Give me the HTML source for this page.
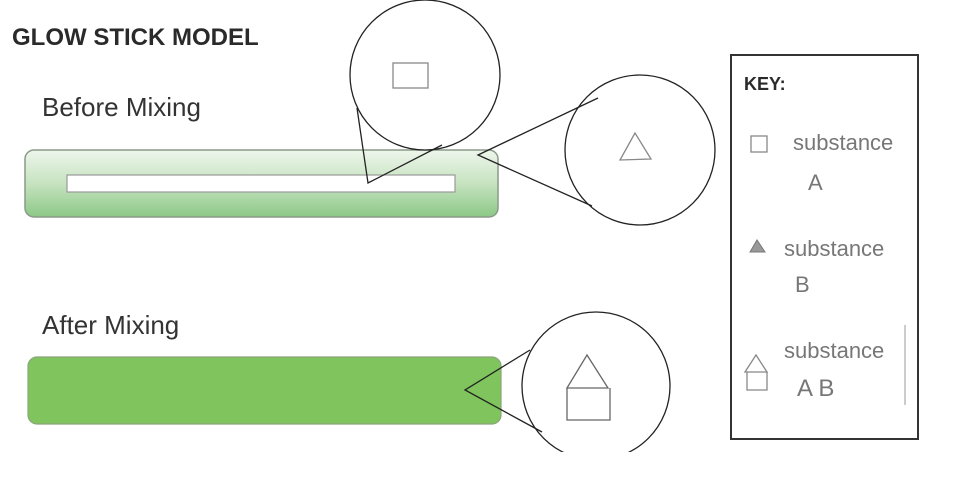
<!DOCTYPE html>
<html><head><meta charset="utf-8"><style>
html,body{margin:0;padding:0;background:#fff;}
svg{display:block;}
.hand{font-family:"Liberation Sans",sans-serif;fill:#777;}
</style></head><body>
<svg width="960" height="481" viewBox="0 0 960 481" xmlns="http://www.w3.org/2000/svg">
<defs>
<linearGradient id="g1" x1="0" y1="0" x2="0" y2="1">
<stop offset="0" stop-color="#eef6ec"/><stop offset="0.5" stop-color="#c6e3c0"/><stop offset="1" stop-color="#8cc886"/>
</linearGradient>
</defs>
<text x="12" y="45" font-family="Liberation Sans,sans-serif" font-weight="bold" font-size="24" fill="#2a2a2a">GLOW STICK MODEL</text>
<text x="42" y="116" font-family="Liberation Sans,sans-serif" font-size="26" fill="#333">Before Mixing</text>
<rect x="25" y="150" width="473" height="67" rx="9" fill="url(#g1)" stroke="#8a9a88" stroke-width="1.5"/>
<rect x="67" y="175" width="388" height="17" fill="#fff" stroke="#999" stroke-width="1.2"/>
<g stroke="#222" stroke-width="1.3" fill="none">
<circle cx="425" cy="75" r="75" fill="#fff"/>
<path d="M357 108 L368 183 L442 145"/>
<rect x="393" y="63" width="35" height="25" stroke="#888"/>
<circle cx="640" cy="150" r="75" fill="#fff"/>
<path d="M598 98 L478 155 L592 206"/>
<path d="M620 160 L635 133 L651 159 Z" stroke="#888"/>
</g>
<text x="42" y="334" font-family="Liberation Sans,sans-serif" font-size="26" fill="#333">After Mixing</text>
<rect x="28" y="357" width="473" height="67" rx="9" fill="#7fc45c" stroke="#8aa57a" stroke-width="1.2"/>
<g stroke="#222" stroke-width="1.3" fill="none">
<circle cx="596" cy="386" r="74" fill="#fff"/>
<path d="M530 350 L465 390 L542 432"/>
<path d="M567 388 L587 355 L608 388 Z M567 388 L567 420 L610 420 L610 388" stroke="#666"/>
</g>
<rect x="500" y="452" width="200" height="29" fill="#fff"/>
<rect x="731" y="55" width="187" height="384" fill="#fff" stroke="#333" stroke-width="2"/>
<text x="744" y="90" font-family="Liberation Sans,sans-serif" font-weight="bold" font-size="18" fill="#2a2a2a">KEY:</text>
<rect x="751" y="136" width="16" height="16" fill="none" stroke="#888" stroke-width="1.3"/>
<text class="hand" x="793" y="150" font-size="22">substance</text>
<text class="hand" x="808" y="190" font-size="22">A</text>
<path d="M750 252 L757 240 L765 252 Z" fill="#999" stroke="#777"/>
<text class="hand" x="784" y="256" font-size="22">substance</text>
<text class="hand" x="795" y="292" font-size="22">B</text>
<path d="M745 372 L756 355 L767 372 Z M747 372 L747 390 L767 390 L767 372" fill="none" stroke="#888" stroke-width="1.3"/>
<text class="hand" x="784" y="358" font-size="22">substance</text>
<text class="hand" x="797" y="396" font-size="24">A B</text>
<line x1="905" y1="325" x2="905" y2="405" stroke="#999" stroke-width="1"/>
</svg>
</body></html>
